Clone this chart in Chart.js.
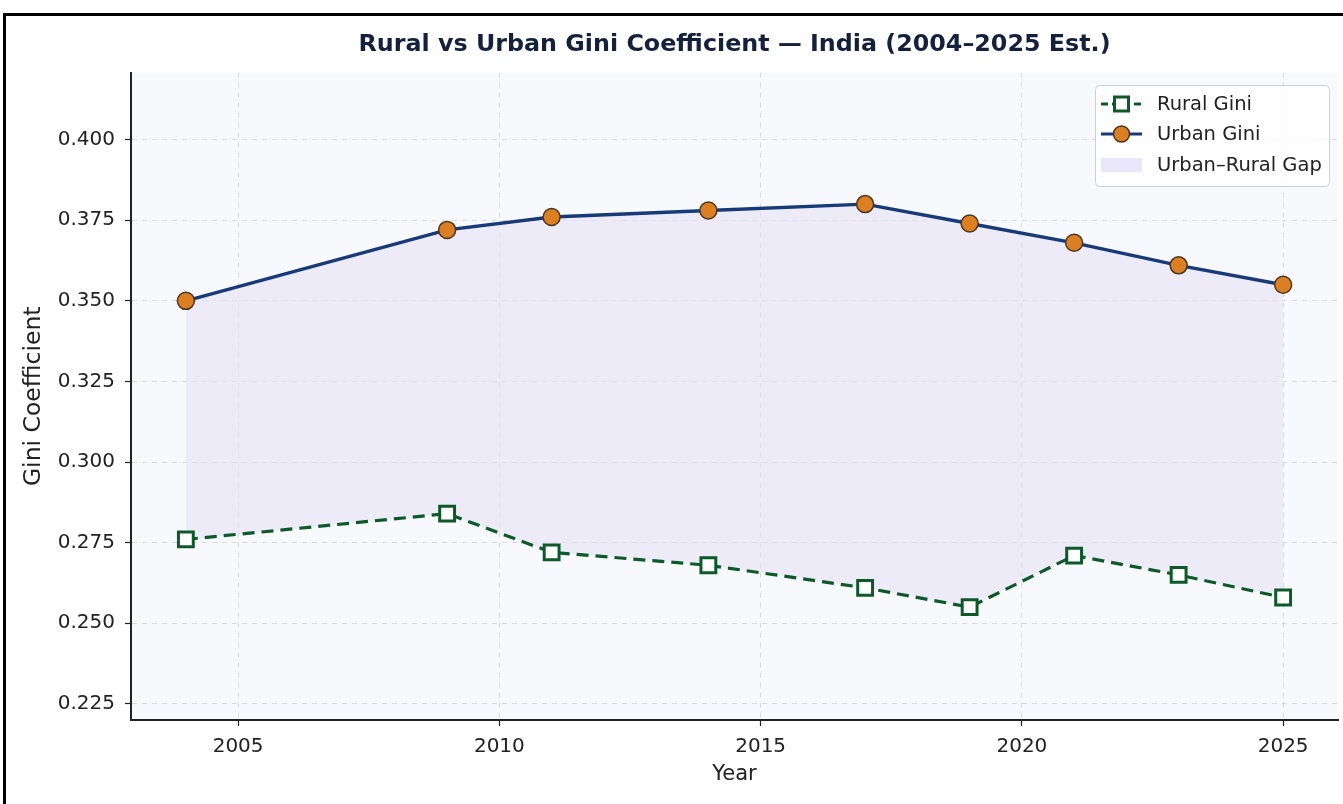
<!DOCTYPE html>
<html>
<head>
<meta charset="utf-8">
<script src="https://cdn.jsdelivr.net/npm/chart.js@4.4.1/dist/chart.umd.min.js"></script>
<style>
  html, body { margin: 0; padding: 0; background: #ffffff; overflow: hidden; }
  #wrap { position: relative; width: 1343px; height: 804px; }
  #c { position: absolute; left: 0; top: 0; }
  #frame { position: absolute; left: 3px; top: 13px; width: 1400px; height: 900px;
           border: 3px solid #000; pointer-events: none; box-sizing: border-box; }
</style>
</head>
<body>
<div id="wrap">
  <canvas id="c" width="1343" height="804"></canvas>
  <div id="frame"></div>
</div>
<script>
const years = [2004, 2009, 2011, 2014, 2017, 2019, 2021, 2023, 2025];
const ruralGini = [0.276, 0.284, 0.272, 0.268, 0.261, 0.255, 0.271, 0.265, 0.258];
const urbanGini = [0.350, 0.372, 0.376, 0.378, 0.380, 0.374, 0.368, 0.361, 0.355];
const xTicks = [2005, 2010, 2015, 2020, 2025];
const yTicks = [0.225, 0.250, 0.275, 0.300, 0.325, 0.350, 0.375, 0.400];
const titleText = 'Rural vs Urban Gini Coefficient \u2014 India (2004\u20132025 Est.)';
const seriesLabels = ['Rural Gini', 'Urban Gini', 'Urban\u2013Rural Gap'];

const FONT = "'DejaVu Sans', sans-serif";
const ruralColor = '#0b5a28';
const urbanColor = '#163b78';
const urbanMarker = '#db7f22';
const gapColor = 'rgba(232,227,248,0.65)';

const toXY = (vals) => years.map((y, i) => ({ x: y, y: vals[i] }));

const bgPlugin = {
  id: 'plotBg',
  beforeDraw(chart) {
    const { ctx, chartArea: a } = chart;
    ctx.save();
    ctx.fillStyle = '#f8f9fc';
    ctx.fillRect(a.left, a.top, a.right - a.left, a.bottom - a.top);
    ctx.restore();
  }
};

const legendPlugin = {
  id: 'innerLegend',
  afterDraw(chart) {
    const ctx = chart.ctx;
    const bx = 1095, by = 85, bw = 234, bh = 101;
    ctx.save();
    ctx.fillStyle = 'rgba(255,255,255,0.85)';
    ctx.strokeStyle = '#d0d0d0';
    ctx.lineWidth = 1;
    ctx.beginPath();
    ctx.roundRect(bx + 0.5, by + 0.5, bw, bh, 4);
    ctx.fill();
    ctx.stroke();
    const rows = [104, 134, 165];
    const x0 = 1101, x1 = 1142, xm = 1121.5, tx = 1157;
    ctx.font = '19.5px ' + FONT;
    ctx.textBaseline = 'middle';
    ctx.textAlign = 'left';
    // Rural
    ctx.strokeStyle = ruralColor; ctx.lineWidth = 3; ctx.setLineDash([7, 4]);
    ctx.beginPath(); ctx.moveTo(x0, rows[0]); ctx.lineTo(x1, rows[0]); ctx.stroke();
    ctx.setLineDash([]);
    ctx.fillStyle = '#ffffff';
    ctx.fillRect(xm - 7, rows[0] - 7, 14, 14);
    ctx.strokeRect(xm - 7, rows[0] - 7, 14, 14);
    // Urban
    ctx.strokeStyle = urbanColor; ctx.lineWidth = 3.2;
    ctx.beginPath(); ctx.moveTo(x0, rows[1]); ctx.lineTo(x1, rows[1]); ctx.stroke();
    ctx.fillStyle = urbanMarker; ctx.strokeStyle = '#4a3520'; ctx.lineWidth = 1.5;
    ctx.beginPath(); ctx.arc(xm, rows[1], 8, 0, Math.PI * 2); ctx.fill(); ctx.stroke();
    // Gap
    ctx.fillStyle = 'rgba(232,227,248,0.9)';
    ctx.fillRect(x0, rows[2] - 7, x1 - x0, 14);
    ctx.fillStyle = '#222';
    seriesLabels.forEach((t, i) => ctx.fillText(t, tx, rows[i] + 1));
    ctx.restore();
  }
};

new Chart(document.getElementById('c'), {
  type: 'line',
  data: {
    datasets: [
      {
        label: seriesLabels[0],
        data: toXY(ruralGini),
        borderColor: ruralColor,
        borderWidth: 3.2,
        borderDash: [12, 7],
        pointStyle: 'rect',
        pointRadius: 10.5,
        pointBorderWidth: 3,
        pointBackgroundColor: '#ffffff',
        pointBorderColor: ruralColor,
        fill: false,
        tension: 0
      },
      {
        label: seriesLabels[1],
        data: toXY(urbanGini),
        borderColor: urbanColor,
        borderWidth: 3.4,
        pointStyle: 'circle',
        pointRadius: 8.5,
        pointBorderWidth: 1.5,
        pointBackgroundColor: urbanMarker,
        pointBorderColor: '#4a3520',
        fill: false,
        tension: 0
      },
      {
        label: seriesLabels[2],
        data: toXY(urbanGini),
        borderWidth: 0,
        borderColor: 'rgba(0,0,0,0)',
        pointRadius: 0,
        backgroundColor: gapColor,
        fill: 0,
        tension: 0
      }
    ]
  },
  options: {
    responsive: false,
    devicePixelRatio: 1,
    animation: false,
    layout: { autoPadding: false, padding: { left: 0, right: 5, top: 0, bottom: 0 } },
    plugins: {
      legend: { display: false },
      tooltip: { enabled: false },
      title: {
        display: true,
        fullSize: false,
        text: titleText,
        color: '#14213d',
        font: { family: FONT, size: 23.8, weight: 'bold', lineHeight: 1.2 },
        padding: { top: 31, bottom: 13 }
      }
    },
    scales: {
      x: {
        type: 'linear',
        min: 2002.95,
        max: 2026.05,
        afterBuildTicks: (s) => { s.ticks = xTicks.map(v => ({ value: v })); },
        afterFit: (s) => { s.height = 84; s.paddingRight = 0; s.paddingLeft = 0; },
        ticks: { color: '#222', font: { family: FONT, size: 20 }, padding: 9,
                 callback: (v) => String(v) },
        grid: { color: 'rgba(0,0,0,0.12)', lineWidth: 1, tickLength: 6, tickColor: '#222',
                tickWidth: 1.2, tickBorderDash: [] },
        border: { display: true, color: '#222', width: 2, dash: [5, 5] },
        title: { display: true, text: 'Year', color: '#222',
                 font: { family: FONT, size: 21 }, padding: { top: 0, bottom: 17 } }
      },
      y: {
        type: 'linear',
        min: 0.22,
        max: 0.4208,
        afterBuildTicks: (s) => { s.ticks = yTicks.map(v => ({ value: v })); },
        afterFit: (s) => { s.width = 131; s.paddingTop = 0; s.paddingBottom = 0; },
        ticks: { color: '#222', font: { family: FONT, size: 20 }, padding: 10,
                 callback: (v) => v.toFixed(3) },
        grid: { color: 'rgba(0,0,0,0.12)', lineWidth: 1, tickLength: 6, tickColor: '#222',
                tickWidth: 1.2, tickBorderDash: [] },
        border: { display: true, color: '#222', width: 2, dash: [5, 5] },
        title: { display: true, text: 'Gini Coefficient', color: '#222',
                 font: { family: FONT, size: 23.5 }, padding: { top: 20, bottom: 0 } }
      }
    }
  },
  plugins: [bgPlugin, legendPlugin]
});
</script>
</body>
</html>
